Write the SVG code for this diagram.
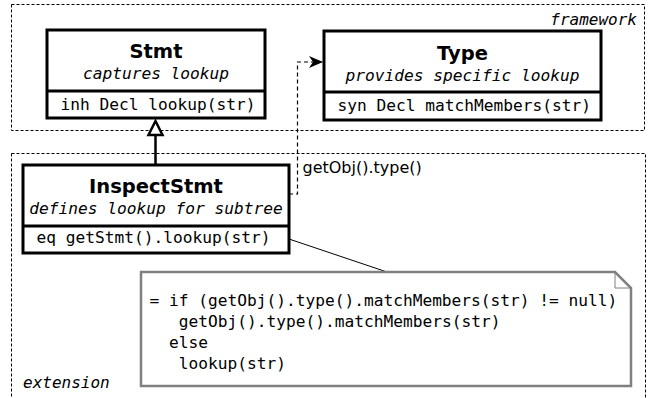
<svg xmlns="http://www.w3.org/2000/svg" width="649" height="398" viewBox="0 0 649 398">
  <style>
    .region { fill: none; stroke: #000; stroke-width: 1; stroke-dasharray: 3 2; }
    .box { fill: #fff; stroke: #000; stroke-width: 3; }
    .title { font-family: "DejaVu Sans", sans-serif; font-weight: bold; font-size: 19.5px; text-anchor: middle; }
    .role { font-family: "DejaVu Sans Mono", monospace; font-style: italic; font-size: 16.2px; text-anchor: middle; }
    .member { font-family: "DejaVu Sans Mono", monospace; font-size: 16.2px; }
    .tag { font-family: "DejaVu Sans Mono", monospace; font-style: italic; font-size: 16px; }
    .code { font-family: "DejaVu Sans Mono", monospace; font-size: 16.2px; }
    .label { font-family: "DejaVu Sans", sans-serif; font-size: 16px; }
    .note { fill: #fff; stroke: #808080; stroke-width: 2.5; }
  </style>
  <defs>
    <marker id="open-arrow" markerUnits="userSpaceOnUse" markerWidth="16" markerHeight="14" refX="14" refY="6" orient="auto">
      <path d="M14,6 L0,0 L4,6 L0,12 Z" fill="#000"/>
    </marker>
  </defs>

  <rect width="649" height="398" fill="#fff"/>

  <!-- module regions -->
  <g id="framework">
    <rect class="region" x="11.5" y="4.5" width="633" height="126"/>
    <text class="tag" x="637" y="25" text-anchor="end">framework</text>
  </g>
  <g id="extension">
    <rect class="region" x="11.5" y="153.5" width="634" height="260"/>
    <text class="tag" x="23" y="388">extension</text>
  </g>

  <!-- connectors -->
  <g id="connectors" fill="none" stroke="#000">
    <path d="M289,194 H297.5 V62 H323" stroke-width="1.2" stroke-dasharray="4 3" marker-end="url(#open-arrow)"/>
    <line x1="155.5" y1="165" x2="155.5" y2="135" stroke-width="2.5"/>
    <path d="M155.5,121 L148.5,135 L162.5,135 Z" fill="#fff" stroke-width="2.5"/>
    <line x1="289" y1="239" x2="387" y2="272" stroke-width="1"/>
  </g>
  <text class="label" x="302.5" y="173">getObj().type()</text>

  <g id="Stmt">
    <rect class="box" x="47" y="30" width="218" height="88"/>
    <line x1="47" y1="91" x2="265" y2="91" stroke="#000" stroke-width="3"/>
    <text class="title" x="156" y="58">Stmt</text>
    <text class="role" x="156" y="79">captures lookup</text>
    <text class="member" x="60.5" y="110">inh Decl lookup(str)</text>
  </g>

  <g id="Type">
    <rect class="box" x="324" y="31" width="277" height="89"/>
    <line x1="324" y1="92" x2="601" y2="92" stroke="#000" stroke-width="3"/>
    <text class="title" x="462.5" y="60">Type</text>
    <text class="role" x="462.5" y="81">provides specific lookup</text>
    <text class="member" x="337.5" y="111">syn Decl matchMembers(str)</text>
  </g>

  <g id="InspectStmt">
    <rect class="box" x="23" y="165" width="266" height="88"/>
    <line x1="23" y1="226" x2="289" y2="226" stroke="#000" stroke-width="3"/>
    <text class="title" x="156" y="193">InspectStmt</text>
    <text class="role" x="156" y="214">defines lookup for subtree</text>
    <text class="member" x="36.5" y="243">eq getStmt().lookup(str)</text>
  </g>

  <g id="note">
    <path class="note" d="M141,272 H615 L631,288 V386 H141 Z"/>
    <path d="M615,272 V288 H631" fill="none" stroke="#808080" stroke-width="1"/>
    <text class="code" x="149.5" y="306">= if (getObj().type().matchMembers(str) != null)</text>
    <text class="code" x="178.8" y="327">getObj().type().matchMembers(str)</text>
    <text class="code" x="169" y="348">else</text>
    <text class="code" x="178.8" y="369">lookup(str)</text>
  </g>
</svg>
